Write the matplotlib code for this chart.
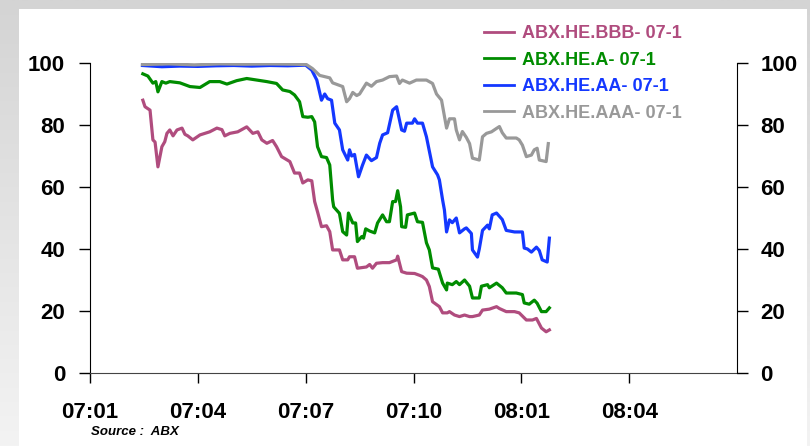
import matplotlib.pyplot as plt
import numpy as np
from matplotlib.colors import LinearSegmentedColormap
from matplotlib.patches import Rectangle

# months since 2007:01
bbb_x = [1.47, 1.53, 1.67, 1.75, 1.81, 1.89, 2.00, 2.08, 2.14, 2.22, 2.31, 2.42, 2.56, 2.64, 2.72, 2.86, 3.06, 3.33,
         3.53, 3.67, 3.75, 3.89, 4.11, 4.36, 4.53, 4.67, 4.78, 4.92, 5.08, 5.19, 5.33, 5.56, 5.69, 5.83, 5.92, 6.06,
         6.17, 6.25, 6.33, 6.44, 6.58, 6.67, 6.75, 6.94, 7.03, 7.17, 7.22, 7.36, 7.44, 7.69, 7.78, 7.86, 7.97, 8.14,
         8.33, 8.53, 8.56, 8.67, 8.81, 9.03, 9.17, 9.25, 9.36, 9.44, 9.53, 9.72, 9.81, 9.94, 10.00, 10.14, 10.28,
         10.42, 10.56, 10.64, 10.83, 10.92, 11.11, 11.31, 11.39, 11.58, 11.81, 11.94, 12.14, 12.31, 12.42, 12.56,
         12.69, 12.78]
bbb_y = [88.0, 85.9, 84.8, 75.2, 74.5, 66.5, 73.0, 74.6, 77.3, 78.4, 76.5, 78.4, 79.0, 77.0, 76.5, 75.2, 76.8, 77.8,
         79.0, 78.5, 76.5, 77.3, 77.8, 79.4, 77.3, 77.8, 75.2, 74.1, 75.0, 73.0, 69.8, 68.2, 64.5, 64.5, 61.3, 62.3,
         62.0, 55.3, 52.0, 47.2, 47.5, 45.6, 39.7, 39.7, 36.5, 36.5, 37.5, 37.5, 33.8, 34.2, 35.0, 33.8, 35.4, 35.6,
         35.6, 36.5, 37.7, 32.7, 32.2, 32.1, 31.5, 31.1, 30.0, 27.9, 23.0, 21.4, 19.4, 19.4, 19.8, 18.7, 18.2,
         18.7, 18.2, 18.2, 18.7, 20.3, 20.6, 21.4, 20.8, 19.8, 19.8, 19.4, 17.1, 17.1, 17.6, 14.5,
         13.3, 13.9]

a_x = [1.47, 1.61, 1.75, 1.83, 1.89, 2.00, 2.11, 2.22, 2.50, 2.78, 3.06, 3.33, 3.61, 3.81, 4.08, 4.36, 4.64, 4.92,
       5.19, 5.36, 5.56, 5.69, 5.83, 5.92, 6.06, 6.17, 6.25, 6.33, 6.44, 6.58, 6.67, 6.75, 6.78, 6.94, 7.03, 7.14,
       7.19, 7.31, 7.39, 7.44, 7.56, 7.61, 7.67, 7.78, 7.92, 8.00, 8.14, 8.25, 8.33, 8.42, 8.50, 8.56, 8.64, 8.67,
       8.78, 8.83, 9.03, 9.11, 9.25, 9.36, 9.44, 9.53, 9.69, 9.81, 9.92, 9.94, 10.08, 10.19, 10.28, 10.42, 10.56,
       10.64, 10.83, 10.89, 11.06, 11.11, 11.31, 11.47, 11.58, 11.86, 12.03, 12.08, 12.22, 12.36, 12.44, 12.56,
       12.69, 12.78]
a_y = [96.5, 95.8, 93.5, 94.0, 90.7, 94.0, 93.5, 94.0, 93.6, 92.4, 92.1, 94.0, 94.0, 93.2, 94.3, 95.0, 94.5, 94.0,
       93.4, 91.3, 90.8, 89.7, 87.5, 82.7, 82.5, 82.7, 81.0, 73.0, 69.8, 69.5, 67.1, 55.8, 53.6, 51.5, 45.6, 44.5,
       51.6, 48.4, 48.4, 42.4, 44.0, 43.5, 46.5, 45.8, 45.2, 48.4, 51.0, 48.8, 48.8, 55.3, 55.3, 58.8, 53.6, 47.2,
       47.0, 51.0, 51.6, 48.8, 48.6, 42.0, 39.7, 33.9, 33.5, 29.0, 26.8, 29.0, 28.5, 29.5, 28.5, 30.0, 28.0,
       24.2, 24.2, 28.0, 28.5, 27.5, 29.0, 27.5, 25.8, 25.8, 25.3, 22.6, 22.2, 23.5, 22.5, 19.8,
       19.8, 21.0]

aa_x = [1.46, 2.0, 2.5, 3.0, 3.5, 4.0, 4.5, 5.0, 5.5, 6.0, 6.17, 6.31, 6.44, 6.53, 6.61, 6.72, 6.81, 6.94, 7.03,
        7.17, 7.22, 7.28, 7.36, 7.47, 7.58, 7.69, 7.83, 7.97, 8.06, 8.14, 8.28, 8.42, 8.53, 8.67, 8.75, 8.81, 8.97,
        9.03, 9.11, 9.25, 9.36, 9.53, 9.67, 9.72, 9.81, 9.86, 9.92, 10.00, 10.08, 10.19, 10.28, 10.42, 10.47,
        10.61, 10.64, 10.78, 10.83, 10.92, 11.06, 11.11, 11.19, 11.31, 11.47, 11.58, 11.81, 12.03, 12.08, 12.17,
        12.28, 12.42, 12.50, 12.58, 12.72, 12.78]
aa_y = [99.2, 98.8, 99.0, 98.9, 99.1, 99.2, 99.0, 99.2, 99.1, 99.3, 97.7, 94.5, 88.0, 90.0, 88.5, 88.0, 80.6, 78.4,
        72.0, 68.7, 72.0, 70.0, 70.5, 63.3, 67.0, 70.3, 68.5, 69.5, 74.1, 76.8, 77.5, 84.8, 85.9, 78.4, 78.0, 80.6,
        80.6, 82.0, 80.6, 80.6, 76.2, 66.5, 63.9, 62.3, 55.8, 52.6, 45.5, 49.4, 48.5, 50.0, 45.2, 46.5, 46.8,
        45.0, 39.7, 37.4, 40.0, 46.0, 47.7, 46.5, 51.0, 51.6, 49.5, 46.0, 45.5, 45.5, 40.3, 40.0,
        39.0, 40.6, 39.5, 36.5, 35.8, 43.5]

aaa_x = [1.46, 2.2, 2.9, 3.6, 4.3, 5.0, 5.7, 6.02, 6.19, 6.39, 6.67, 6.75, 7.03, 7.14, 7.22, 7.31, 7.42, 7.50, 7.69,
         7.83, 7.97, 8.14, 8.33, 8.53, 8.61, 8.69, 8.89, 9.08, 9.36, 9.53, 9.64, 9.78, 9.92, 10.00, 10.14, 10.19,
         10.28, 10.36, 10.47, 10.56, 10.64, 10.83, 10.92, 11.03, 11.17, 11.31, 11.39, 11.47, 11.58, 11.86, 11.94,
         12.03, 12.14, 12.28, 12.36, 12.44, 12.50, 12.69, 12.75]
aaa_y = [99.5, 99.7, 99.4, 99.7, 99.6, 99.7, 99.6, 99.5, 98.2, 96.0, 95.2, 93.6, 92.4, 87.5, 88.5, 90.5, 89.5, 90.0,
         93.5, 92.5, 94.0, 94.5, 95.6, 95.8, 93.4, 94.5, 93.5, 94.5, 94.5, 93.4, 90.0, 88.0, 79.0, 82.0, 82.0,
         78.4, 75.2, 77.9, 76.0, 74.0, 69.3, 68.7, 76.2, 77.3, 77.8, 78.9, 79.5, 77.5, 75.8, 75.8, 75.2,
         73.5, 69.8, 70.3, 72.0, 72.5, 68.7, 68.2, 74.0]

series_names = ['ABX.HE.BBB- 07-1', 'ABX.HE.A- 07-1', 'ABX.HE.AA- 07-1', 'ABX.HE.AAA- 07-1']
series_colors = ['#B04C7E', '#008C00', '#1438FF', '#999999']
tick_pos = [0, 3, 6, 9, 12, 15]
tick_labels = ['07:01', '07:04', '07:07', '07:10', '08:01', '08:04']

plt.rcParams['font.family'] = ['Liberation Sans', 'DejaVu Sans']
plt.rcParams['font.weight'] = 'bold'

W, H = 810, 446
fig = plt.figure(figsize=(W / 100, H / 100), dpi=100)

# grey frame with white panel
bg = fig.add_axes([0, 0, 1, 1], zorder=-10)
grad = np.linspace(0, 1, 256).reshape(-1, 1)
cmap = LinearSegmentedColormap.from_list('bg', ['#d4d4d4', '#f3f3f3'])
bg.imshow(grad, cmap=cmap, aspect='auto', extent=[0, 1, 0, 1])
bg.add_patch(Rectangle((19 / W, 0), (807 - 19) / W, (H - 9) / H, transform=bg.transAxes,
                       facecolor='white', edgecolor='none'))
bg.set_xlim(0, 1)
bg.set_ylim(0, 1)
bg.axis('off')

ax = fig.add_axes([90 / W, 1 - 373 / H, (737 - 90) / W, (373 - 63) / H])
ax.set_facecolor('none')

lines = []
for xs, ys, c, name in zip([bbb_x, a_x, aa_x, aaa_x], [bbb_y, a_y, aa_y, aaa_y],
                           series_colors, series_names):
    ln, = ax.plot(xs, ys, color=c, lw=2.3, label=name)
    lines.append(ln)

ax.set_xlim(0, 18)
ax.set_ylim(0, 100)
ax.set_xticks(tick_pos)
ax.set_xticklabels(tick_labels)
ax.set_yticks(range(0, 101, 20))
ax.tick_params(axis='x', direction='out', length=7, width=1, pad=14, labelsize=16)
ax.tick_params(axis='y', direction='out', length=8, width=1, pad=10, labelsize=16)
for s in ['top', 'right']:
    ax.spines[s].set_visible(False)
ax.spines['bottom'].set_color('#444444')

ax2 = ax.twinx()
ax2.set_ylim(0, 100)
ax2.set_yticks(range(0, 101, 20))
ax2.tick_params(axis='y', direction='out', length=8, width=1, pad=9, labelsize=16)
for s in ['top', 'left', 'bottom']:
    ax2.spines[s].set_visible(False)

leg = ax2.legend(handles=lines, loc='upper left', bbox_to_anchor=(484 / W, 1 - 25 / H),
                 bbox_transform=fig.transFigure, frameon=False, borderpad=0, borderaxespad=0,
                 handlelength=1.65, handletextpad=0.45, labelspacing=0.53,
                 prop={'size': 13, 'weight': 'bold'})
for txt, c in zip(leg.get_texts(), series_colors):
    txt.set_color(c)
for h in leg.legend_handles:
    h.set_linewidth(2)

fig.text(91 / W, 1 - 432 / H, 'Source :  ABX', style='italic', weight='bold', size=9.5, va='center')

fig.savefig('out.png', dpi=100)
